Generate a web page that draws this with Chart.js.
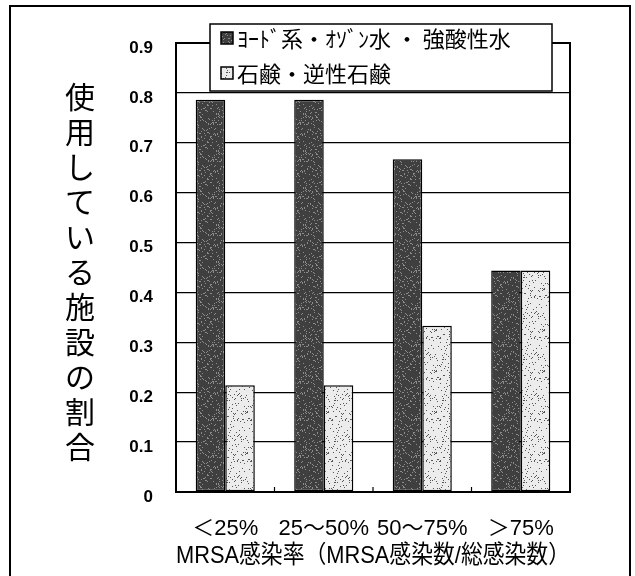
<!DOCTYPE html>
<html>
<head>
<meta charset="utf-8">
<script src="https://cdn.jsdelivr.net/npm/chart.js@4/dist/chart.umd.min.js"></script>
<style>
  html, body { margin: 0; padding: 0; background: #fff; }
  canvas { display: block; }
</style>
</head>
<body>
<canvas id="chart" width="635" height="576"></canvas>
<script>
// categories and series
const categories = ["＜25%", "25～50%", "50～75%", "＞75%"];
const iodineOzone = [0.786, 0.786, 0.667, 0.444];
const soap = [0.214, 0.214, 0.333, 0.444];
const seriesNames = ["ﾖｰﾄﾞ系・ｵｿﾞﾝ水 ・ 強酸性水", "石鹸・逆性石鹸"];
const yTitle = "使用している施設の割合";
const xTitle = "MRSA感染率（MRSA感染数/総感染数）";

const canvas = document.getElementById("chart");
const ctx = canvas.getContext("2d");

// speckled tiles for the bar fills (fixed hash, so the texture is stable)
function speckle(base, dot, count, w, h, seed) {
  const tile = document.createElement("canvas");
  tile.width = w;
  tile.height = h;
  const g = tile.getContext("2d");
  g.fillStyle = base;
  g.fillRect(0, 0, w, h);
  g.fillStyle = dot;
  for (let i = 0; i < count; i++) {
    const k = Math.imul(i + seed, 2654435761) >>> 0;
    const m = Math.imul(k ^ (k >>> 13), 1274126177) >>> 0;
    g.fillRect(k % w, m % h, 1, 1);
  }
  return ctx.createPattern(tile, "repeat");
}
const darkFill = speckle("#3f3f3f", "#8c8c8c", 140, 29, 37, 3);
const lightFill = speckle("#ececec", "#555555", 85, 27, 41, 11);

const JP = '"Noto Sans CJK JP", sans-serif';
const LAT = '"Liberation Sans", "Noto Sans CJK JP", sans-serif';

const decorations = {
  id: "decorations",
  afterDraw(chart) {
    const c = chart.ctx;
    const area = chart.chartArea;
    const x = chart.scales.x;
    c.save();
    c.strokeStyle = "#000";
    c.fillStyle = "#000";

    // outer frame (open at the bottom)
    c.fillRect(9, 5, 2, 571);
    c.fillRect(9, 5, 622, 2);
    c.fillRect(629, 5, 2, 571);

    // plot frame
    c.lineWidth = 2;
    c.strokeRect(area.left, area.top, area.right - area.left, area.bottom - area.top);

    // short inward ticks between categories
    c.lineWidth = 1.2;
    for (let i = 0; i < categories.length - 1; i++) {
      const px = (x.getPixelForTick(i) + x.getPixelForTick(i + 1)) / 2;
      c.beginPath();
      c.moveTo(px, area.bottom);
      c.lineTo(px, area.bottom - 5);
      c.stroke();
    }

    // legend box
    const lx = 210, ly = 24, lw = 342, lh = 67;
    c.fillStyle = "#fff";
    c.fillRect(lx, ly, lw, lh);
    c.lineWidth = 1.5;
    c.strokeRect(lx, ly, lw, lh);
    const rows = [38, 73];
    chart.data.datasets.forEach((ds, i) => {
      c.fillStyle = ds.backgroundColor;
      c.fillRect(221, rows[i] - 6, 12, 12);
      c.lineWidth = 1.5;
      c.strokeRect(221, rows[i] - 6, 12, 12);
      c.fillStyle = "#000";
      c.font = "22px " + JP;
      c.textBaseline = "middle";
      c.textAlign = "left";
      c.fillText(ds.label, 237, rows[i] + 1);
    });

    // upright vertical y title
    c.font = "30px " + JP;
    c.fillStyle = "#000";
    c.textAlign = "center";
    c.textBaseline = "middle";
    [...yTitle].forEach((ch, i) => c.fillText(ch, 80, 97 + i * 35));

    c.restore();
  }
};

new Chart(canvas, {
  type: "bar",
  data: {
    labels: categories,
    datasets: [
      {
        label: seriesNames[0],
        data: iodineOzone,
        backgroundColor: darkFill,
        borderColor: "#000",
        borderWidth: 1.5,
        borderSkipped: false,
      },
      {
        label: seriesNames[1],
        data: soap,
        backgroundColor: lightFill,
        borderColor: "#000",
        borderWidth: 1.5,
        borderSkipped: false,
      },
    ],
  },
  options: {
    responsive: false,
    animation: false,
    devicePixelRatio: 1,
    layout: { padding: { left: 0, top: 43, right: 65, bottom: 0 } },
    datasets: { bar: { categoryPercentage: 0.6, barPercentage: 1.0 } },
    plugins: { legend: { display: false }, tooltip: { enabled: false } },
    scales: {
      x: {
        grid: { display: false, drawTicks: false },
        border: { display: false },
        ticks: {
          color: "#000",
          font: { family: LAT, size: 22 },
          padding: 24,
          maxRotation: 0,
          autoSkip: false,
        },
        title: {
          display: true,
          text: xTitle,
          color: "#000",
          font: { family: LAT, size: 24.5 },
          padding: { top: 0, bottom: 5 },
        },
        afterFit(scale) { scale.height = 84; },
      },
      y: {
        min: 0,
        max: 0.9,
        grid: { color: "#000", lineWidth: 1.3, drawTicks: false },
        border: { display: false },
        ticks: {
          stepSize: 0.1,
          color: "#000",
          padding: 23,
          labelOffset: 5,
          font: { family: '"Liberation Sans", Arial, sans-serif', size: 17, weight: "bold" },
          callback: (v) => (v === 0 ? "0" : v.toFixed(1)),
        },
        afterFit(scale) { scale.width = 176; },
      },
    },
  },
  plugins: [decorations],
});
</script>
</body>
</html>
